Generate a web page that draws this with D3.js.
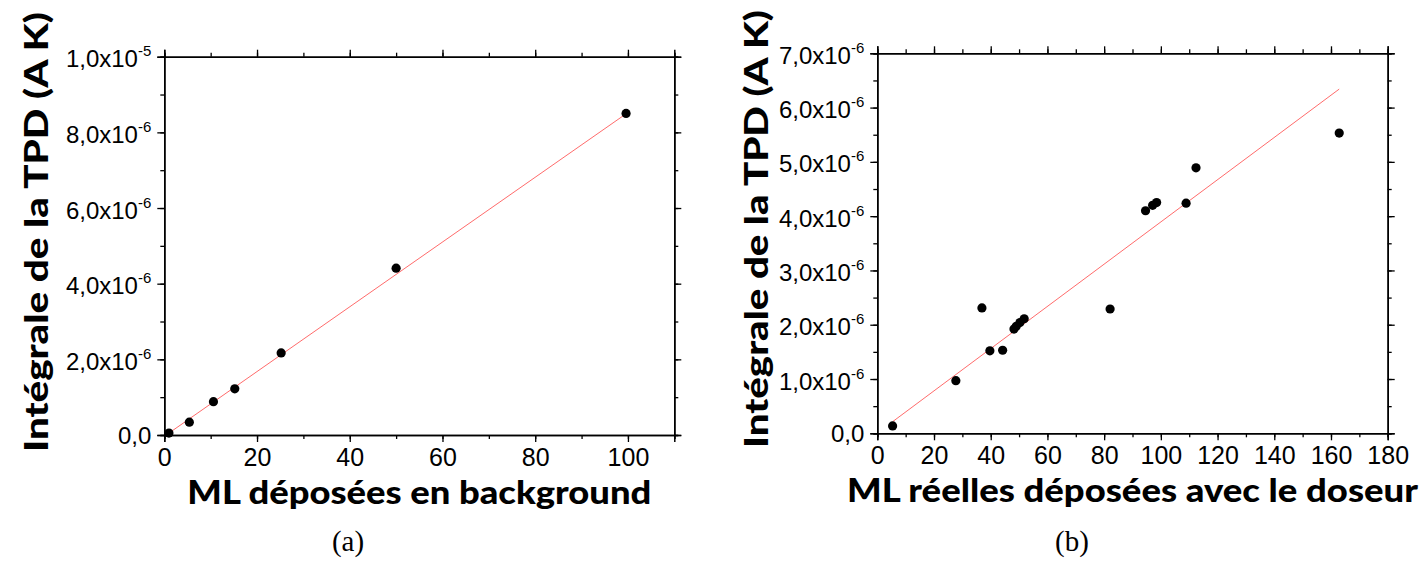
<!DOCTYPE html>
<html>
<head>
<meta charset="utf-8">
<script src="https://cdn.jsdelivr.net/npm/d3@7"></script>
<style>
  html, body { margin: 0; padding: 0; background: #fff; }
  svg { display: block; }
</style>
</head>
<body>
<svg id="chart" width="1424" height="563"></svg>
<script>
// ---------- data ----------
// Panel (a)
const xA = [1, 5.4, 10.6, 15.2, 25.2, 50, 99.6];
const yA = [0.05e-6, 0.34e-6, 0.88e-6, 1.22e-6, 2.17e-6, 4.41e-6, 8.5e-6];
const fitA = { slope: 0.0856e-6, intercept: -0.035e-6, from: 0.5, to: 99.7 };
const xTicksA = [0, 20, 40, 60, 80, 100];
const yTicksA = [0, 2e-6, 4e-6, 6e-6, 8e-6, 1e-5];
const yTickLabelsA = [["0,0", ""], ["2,0x10", "-6"], ["4,0x10", "-6"], ["6,0x10", "-6"], ["8,0x10", "-6"], ["1,0x10", "-5"]];

// Panel (b)
const xB = [5.4, 27.7, 36.9, 39.7, 44.2, 48.2, 49, 50.3, 51.8, 82.1, 94.6, 97.1, 98.5, 108.9, 112.4, 162.9];
const yB = [0.135e-6, 0.97e-6, 2.31e-6, 1.52e-6, 1.53e-6, 1.92e-6, 1.97e-6, 2.04e-6, 2.11e-6, 2.29e-6, 4.10e-6, 4.2e-6, 4.25e-6, 4.24e-6, 4.89e-6, 5.53e-6];
const fitB = { slope: 0.0389e-6, intercept: 0.004e-6, from: 5.4, to: 162.9 };
const xTicksB = [0, 20, 40, 60, 80, 100, 120, 140, 160, 180];
const yTicksB = [0, 1e-6, 2e-6, 3e-6, 4e-6, 5e-6, 6e-6, 7e-6];
const yTickLabelsB = [["0,0", ""], ["1,0x10", "-6"], ["2,0x10", "-6"], ["3,0x10", "-6"], ["4,0x10", "-6"], ["5,0x10", "-6"], ["6,0x10", "-6"], ["7,0x10", "-6"]];

const yTitle = "Intégrale de la TPD (A K)";
const xTitleA = "ML déposées en background";
const xTitleB = "ML réelles déposées avec le doseur";
const captions = ["(a)", "(b)"];

// ---------- drawing ----------
const svg = d3.select("#chart");
const TICK_FONT = "'Liberation Sans', Arial, sans-serif";
const TITLE_FONT = "Lato, 'Open Sans', sans-serif";

function panel(cfg) {
  const x = d3.scaleLinear().domain(cfg.xDomain).range([cfg.left, cfg.right]);
  const y = d3.scaleLinear().domain(cfg.yDomain).range([cfg.bottom, cfg.top]);
  const g = svg.append("g");

  const major = 7, minor = 4;
  const axStyle = a => a.call(s => s.select(".domain").attr("stroke-width", 1.5))
                        .call(s => s.selectAll(".tick line").attr("stroke-width", 1.3));
  const noText = a => a.call(s => s.selectAll(".tick text").remove());

  const xMinor = d3.range(cfg.xDomain[0], cfg.xDomain[1] + 1e-9, cfg.xMinorStep);
  const yMinor = d3.range(cfg.yDomain[0], cfg.yDomain[1] + 1e-15, cfg.yMinorStep);

  // minor ticks (all four sides)
  [[d3.axisBottom(x), cfg.bottom, xMinor], [d3.axisTop(x), cfg.top, xMinor]].forEach(([ax, pos, vals]) => {
    g.append("g").attr("transform", `translate(0,${pos})`)
      .call(ax.tickValues(vals).tickSize(minor))
      .call(axStyle).call(noText);
  });
  [[d3.axisLeft(y), cfg.left, yMinor], [d3.axisRight(y), cfg.right, yMinor]].forEach(([ax, pos, vals]) => {
    g.append("g").attr("transform", `translate(${pos},0)`)
      .call(ax.tickValues(vals).tickSize(minor))
      .call(axStyle).call(noText);
  });
  // major ticks
  g.append("g").attr("transform", `translate(0,${cfg.bottom})`)
    .call(d3.axisBottom(x).tickValues(cfg.xTicks).tickSize(major).tickPadding(6).tickFormat(d => d))
    .call(axStyle)
    .call(s => s.selectAll(".tick text").attr("font-family", TICK_FONT).attr("font-size", 25).attr("fill", "#000"));
  g.append("g").attr("transform", `translate(0,${cfg.top})`)
    .call(d3.axisTop(x).tickValues(cfg.xTicks).tickSize(major))
    .call(axStyle).call(noText);
  g.append("g").attr("transform", `translate(${cfg.right},0)`)
    .call(d3.axisRight(y).tickValues(cfg.yTicks).tickSize(major))
    .call(axStyle).call(noText);
  const yl = g.append("g").attr("transform", `translate(${cfg.left},0)`)
    .call(d3.axisLeft(y).tickValues(cfg.yTicks).tickSize(major))
    .call(axStyle).call(noText);
  // y tick labels with superscript exponent
  yl.selectAll(".tick").each(function (d, i) {
    const lab = cfg.yLabels[i];
    const t = d3.select(this).append("text")
      .attr("x", -13).attr("y", lab[1] ? 10 : 8)
      .attr("text-anchor", "end")
      .attr("font-family", TICK_FONT).attr("font-size", 24).attr("fill", "#000");
    t.append("tspan").text(lab[0]);
    if (lab[1]) t.append("tspan").attr("font-size", 15).attr("dy", -11).text(lab[1]);
  });

  // fit line
  g.append("line")
    .attr("x1", x(cfg.fit.from)).attr("y1", y(cfg.fit.intercept + cfg.fit.slope * cfg.fit.from))
    .attr("x2", x(cfg.fit.to)).attr("y2", y(cfg.fit.intercept + cfg.fit.slope * cfg.fit.to))
    .attr("stroke", "#ff5a5a").attr("stroke-width", 0.9);

  // points
  g.selectAll("circle.pt").data(cfg.xs).join("circle")
    .attr("class", "pt")
    .attr("cx", d => x(d)).attr("cy", (d, i) => y(cfg.ys[i]))
    .attr("r", 4.6).attr("fill", "#000");

  // x title
  g.append("text")
    .attr("x", (cfg.left + cfg.right) / 2).attr("y", cfg.xTitleY)
    .attr("text-anchor", "middle")
    .attr("font-family", TITLE_FONT).attr("font-weight", 900).attr("font-size", 31.5)
    .attr("textLength", cfg.xTitleW).attr("lengthAdjust", "spacingAndGlyphs")
    .attr("fill", "#000")
    .text(cfg.xTitle);

  // y title
  g.append("text")
    .attr("transform", `translate(${cfg.yTitleX},${cfg.yTitleCY}) rotate(-90)`)
    .attr("text-anchor", "middle")
    .attr("font-family", TITLE_FONT).attr("font-weight", 900).attr("font-size", 33)
    .attr("textLength", cfg.yTitleW).attr("lengthAdjust", "spacingAndGlyphs")
    .attr("fill", "#000")
    .text(yTitle);

  // caption
  g.append("text")
    .attr("x", cfg.capX).attr("y", 551)
    .attr("text-anchor", "middle")
    .attr("font-family", "'Liberation Serif', 'DejaVu Serif', serif").attr("font-size", 29).attr("fill", "#000")
    .text(cfg.caption);
}

panel({
  xDomain: [0, 110], yDomain: [0, 1e-5],
  left: 164.3, right: 674.3, top: 56.7, bottom: 435,
  xTicks: xTicksA, yTicks: yTicksA, yLabels: yTickLabelsA,
  xMinorStep: 10, yMinorStep: 1e-6,
  xs: xA, ys: yA, fit: fitA,
  xTitle: xTitleA, xTitleY: 503.5, xTitleW: 464,
  yTitleX: 48, yTitleCY: 232, yTitleW: 440,
  capX: 348, caption: captions[0]
});

panel({
  xDomain: [0, 180], yDomain: [0, 7e-6],
  left: 877.3, right: 1387.7, top: 53.3, bottom: 433.3,
  xTicks: xTicksB, yTicks: yTicksB, yLabels: yTickLabelsB,
  xMinorStep: 10, yMinorStep: 0.5e-6,
  xs: xB, ys: yB, fit: fitB,
  xTitle: xTitleB, xTitleY: 501.5, xTitleW: 571,
  yTitleX: 768, yTitleCY: 229, yTitleW: 438,
  capX: 1072, caption: captions[1]
});
</script>
</body>
</html>
